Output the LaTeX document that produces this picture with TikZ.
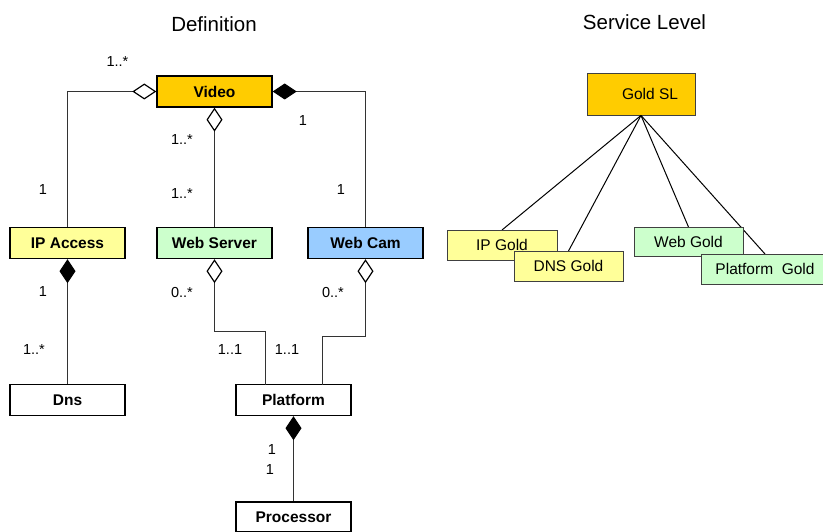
\documentclass[tikz,border=0pt]{standalone}
\usepackage{fontspec}
\setmainfont{Liberation Sans}
\usetikzlibrary{arrows.meta}
\definecolor{goldc}{HTML}{FFCC00}
\definecolor{lyellow}{HTML}{FFFF99}
\definecolor{lgreen}{HTML}{CCFFCC}
\definecolor{lblue}{HTML}{99CCFF}
\definecolor{linec}{HTML}{333333}
\tikzset{
  umlbox/.style={draw=black, line width=1.4pt, minimum width=115pt, minimum height=31pt, inner sep=0pt, font=\bfseries\fontsize{15.5}{18}\selectfont},
  slbox/.style={draw=black!75, line width=0.9pt, inner sep=0pt, font=\fontsize{15.5}{18}\selectfont},
  mult/.style={inner sep=0pt, font=\fontsize{14.5}{17}\selectfont},
  ttl/.style={inner sep=0pt, font=\fontsize{20.5}{24}\selectfont},
  conn/.style={draw=linec, line width=1pt},
  hd/.style={conn, {Diamond[open, length=24pt, width=16pt, line width=1.2pt, color=black]}-},
  fd/.style={conn, {Diamond[length=24pt, width=16pt, color=black]}-},
  slline/.style={draw=black, line width=1pt}
}
\begin{document}
\begin{tikzpicture}[x=1pt,y=-1pt]
\useasboundingbox (0,0) rectangle (823,532);
\fill[white] (0,0) rectangle (823,532);
% titles
\node[ttl] (tdef) at (214,24) {Definition};
\node[ttl] (tsl) at (644.5,22) {Service Level};
% UML boxes
\node[umlbox, fill=goldc] (video) at (214.5,91.5) {Video};
\node[umlbox, fill=lyellow] (ipa) at (67.5,243) {IP Access};
\node[umlbox, fill=lgreen] (ws) at (214.5,243) {Web Server};
\node[umlbox, fill=lblue] (wc) at (365.5,243) {Web Cam};
\node[umlbox, fill=white] (dns) at (67.5,400) {Dns};
\node[umlbox, fill=white] (plat) at (293.5,400) {Platform};
\node[umlbox, fill=white, minimum height=30pt] (proc) at (293.5,517) {Processor};
\coordinate (pA) at (265,384.5);
\coordinate (pB) at (322,384.5);
% connectors
\draw[hd] (video.west) -| (ipa.north);
\draw[fd] (video.east) -| (wc.north);
\draw[hd] (video.south) -- (ws.north);
\draw[fd] (ipa.south) -- (dns.north);
\draw[hd] (ws.south) -- ++(0,72) -| (pA);
\draw[hd] (wc.south) -- ++(0,77) -| (pB);
\draw[fd] (plat.south) -- (proc.north);
% multiplicities
\node[mult] (m1) at (117.5,62) {1..*};
\node[mult] (m2) at (303,121) {1};
\node[mult] (m3) at (182,140) {1..*};
\node[mult] (m4) at (43,190) {1};
\node[mult] (m5) at (182,194) {1..*};
\node[mult] (m6) at (341,190) {1};
\node[mult] (m7) at (43,292) {1};
\node[mult] (m8) at (34,350) {1..*};
\node[mult] (m9) at (182,293) {0..*};
\node[mult] (m10) at (230,350) {1..1};
\node[mult] (m11) at (287,350) {1..1};
\node[mult] (m12) at (333,293) {0..*};
\node[mult] (m13) at (272,450) {1};
\node[mult] (m14) at (270,470) {1};
% service level
\node[slbox, fill=goldc, minimum width=108pt, minimum height=42pt] (gold) at (641,94) {\hspace{18pt}Gold SL};
\coordinate (ipgt) at (502,230);
\coordinate (dnsgt) at (568.5,251);
\coordinate (wgt) at (688.5,227);
\coordinate (ptgt) at (765,254);
\draw[slline] (gold.south) -- (ipgt);
\draw[slline] (gold.south) -- (dnsgt);
\draw[slline] (gold.south) -- (wgt);
\draw[slline] (gold.south) -- (ptgt);
\node[slbox, fill=lyellow, minimum width=110pt, minimum height=30pt] (ipg) at (502,245) {IP Gold\hspace{4pt}};
\node[slbox, fill=lyellow, minimum width=109pt, minimum height=30pt] (dnsg) at (568.5,266) {DNS Gold\hspace{4pt}};
\node[slbox, fill=lgreen, minimum width=109pt, minimum height=29pt] (wg) at (688.5,241.5) {Web Gold\hspace{4pt}};
\node[slbox, fill=lgreen, minimum width=128pt, minimum height=30pt] (ptg) at (765,269) {Platform\ \ Gold};
\end{tikzpicture}
\end{document}
